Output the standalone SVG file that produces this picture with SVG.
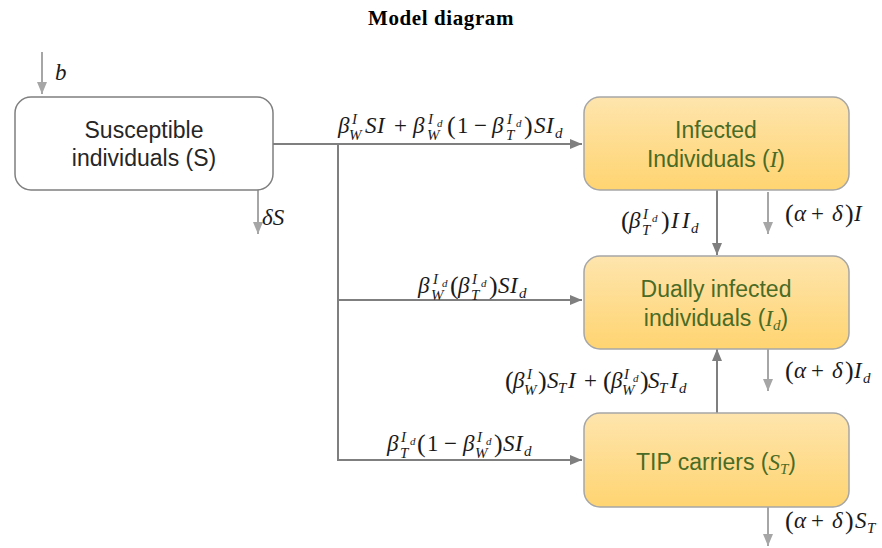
<svg xmlns="http://www.w3.org/2000/svg" width="882" height="548" viewBox="0 0 882 548">
<defs>
<linearGradient id="gold" x1="0" y1="0" x2="0" y2="1">
<stop offset="0" stop-color="#fee5ad"/>
<stop offset="1" stop-color="#ffd471"/>
</linearGradient>
<marker id="ad" markerUnits="userSpaceOnUse" markerWidth="12" markerHeight="10" refX="12" refY="5" orient="auto">
<path d="M0,0 L12,5 L0,10 z" fill="#7f7f7f"/>
</marker>
<marker id="al" markerUnits="userSpaceOnUse" markerWidth="12" markerHeight="10" refX="12" refY="5" orient="auto">
<path d="M0,0 L12,5 L0,10 z" fill="#a6a6a6"/>
</marker>
</defs>
<style>
.title{font-family:"Liberation Serif",serif;font-weight:bold;font-size:21px;fill:#000}
.box{stroke:#a6a6a6;stroke-width:1.5}
.wbox{fill:#fff;stroke:#7f7f7f;stroke-width:1.5}
.nt{font-family:"Liberation Sans",Arial,sans-serif;font-size:23px;text-anchor:middle}
.st{fill:#262626}
.gt{fill:#4a6b26}
.gi{font-family:"Liberation Serif",serif;font-style:italic}
.dk{stroke:#7f7f7f;stroke-width:2;fill:none}
.lt{stroke:#a6a6a6;stroke-width:2;fill:none}
.m{font-family:"Liberation Serif",serif;font-size:23px;fill:#1a1a1a}
.i{font-style:italic}
.s{font-size:15px;font-style:italic}
.ss{font-size:11px;font-style:italic}
.p{font-size:26px}
</style>
<text class="title" x="441" y="25" text-anchor="middle" letter-spacing="0.6">Model diagram</text>

<g id="connectors">
<polyline class="dk" points="273,144 582,144" marker-end="url(#ad)"/>
<polyline class="dk" points="338,144 338,460 582,460" marker-end="url(#ad)"/>
<polyline class="dk" points="338,300 582,300" marker-end="url(#ad)"/>
<line class="dk" x1="717" y1="190" x2="717" y2="255" marker-end="url(#ad)"/>
<line class="dk" x1="717" y1="413" x2="717" y2="349" marker-end="url(#ad)"/>
<line class="lt" x1="42" y1="52" x2="42" y2="94" marker-end="url(#al)"/>
<line class="lt" x1="258" y1="190" x2="258" y2="234" marker-end="url(#al)"/>
<line class="lt" x1="768" y1="192" x2="768" y2="234" marker-end="url(#al)"/>
<line class="lt" x1="768" y1="349" x2="768" y2="391" marker-end="url(#al)"/>
<line class="lt" x1="768" y1="507" x2="768" y2="546" marker-end="url(#al)"/>
</g>

<g id="labels">
<text class="m i" x="55" y="80">b</text>
<text class="m i" x="262" y="225">δS</text>
<!-- top formula -->
<text class="m">
<tspan class="i" x="338" y="133">β</tspan>
<tspan class="s" x="352" y="124">I</tspan>
<tspan class="s" x="349" y="140">W</tspan>
<tspan class="i" x="365" y="133">S</tspan>
<tspan class="i" x="377" y="133">I</tspan>
<tspan x="394" y="133">+</tspan>
<tspan class="i" x="413" y="133">β</tspan>
<tspan class="s" x="428" y="124">I</tspan><tspan class="ss" x="437" y="127">d</tspan>
<tspan class="s" x="427" y="140">W</tspan>
<tspan class="p" x="447" y="134">(</tspan>
<tspan x="457" y="133">1</tspan>
<tspan x="474" y="133">−</tspan>
<tspan class="i" x="492" y="133">β</tspan>
<tspan class="s" x="507" y="124">I</tspan><tspan class="ss" x="516" y="127">d</tspan>
<tspan class="s" x="506" y="140">T</tspan>
<tspan class="p" x="524" y="134">)</tspan>
<tspan class="i" x="534" y="133">S</tspan>
<tspan class="i" x="546" y="133">I</tspan>
<tspan class="s" x="555" y="138">d</tspan>
</text>
<!-- middle formula -->
<text class="m">
<tspan class="i" x="418" y="293">β</tspan>
<tspan class="s" x="433" y="284">I</tspan><tspan class="ss" x="442" y="287">d</tspan>
<tspan class="s" x="431" y="300">W</tspan>
<tspan class="p" x="450" y="294">(</tspan>
<tspan class="i" x="458" y="293">β</tspan>
<tspan class="s" x="472" y="284">I</tspan><tspan class="ss" x="481" y="287">d</tspan>
<tspan class="s" x="471" y="300">T</tspan>
<tspan class="p" x="489" y="294">)</tspan>
<tspan class="i" x="498" y="293">S</tspan>
<tspan class="i" x="510" y="293">I</tspan>
<tspan class="s" x="519" y="298">d</tspan>
</text>
<!-- bottom formula -->
<text class="m">
<tspan class="i" x="387" y="451">β</tspan>
<tspan class="s" x="401" y="442">I</tspan><tspan class="ss" x="410" y="445">d</tspan>
<tspan class="s" x="400" y="458">T</tspan>
<tspan class="p" x="417" y="452">(</tspan>
<tspan x="427" y="451">1</tspan>
<tspan x="444" y="451">−</tspan>
<tspan class="i" x="463" y="451">β</tspan>
<tspan class="s" x="477" y="442">I</tspan><tspan class="ss" x="486" y="445">d</tspan>
<tspan class="s" x="475" y="458">W</tspan>
<tspan class="p" x="494" y="452">)</tspan>
<tspan class="i" x="503" y="451">S</tspan>
<tspan class="i" x="515" y="451">I</tspan>
<tspan class="s" x="524" y="456">d</tspan>
</text>
<!-- up arrow label -->
<text class="m">
<tspan class="p" x="505" y="389">(</tspan>
<tspan class="i" x="513" y="388">β</tspan>
<tspan class="s" x="527" y="379">I</tspan>
<tspan class="s" x="524" y="395">W</tspan>
<tspan class="p" x="538" y="389">)</tspan>
<tspan class="i" x="547" y="388">S</tspan>
<tspan class="s" x="558" y="393">T</tspan>
<tspan class="i" x="568" y="388">I</tspan>
<tspan x="584" y="388">+</tspan>
<tspan class="p" x="603" y="389">(</tspan>
<tspan class="i" x="611" y="388">β</tspan>
<tspan class="s" x="624" y="379">I</tspan><tspan class="ss" x="633" y="382">d</tspan>
<tspan class="s" x="622" y="395">W</tspan>
<tspan class="p" x="640" y="389">)</tspan>
<tspan class="i" x="648" y="388">S</tspan>
<tspan class="s" x="659" y="393">T</tspan>
<tspan class="i" x="670" y="388">I</tspan>
<tspan class="s" x="679" y="393">d</tspan>
</text>
<!-- down arrow label -->
<text class="m">
<tspan class="p" x="621" y="229">(</tspan>
<tspan class="i" x="629" y="228">β</tspan>
<tspan class="s" x="643" y="219">I</tspan><tspan class="ss" x="652" y="222">d</tspan>
<tspan class="s" x="642" y="235">T</tspan>
<tspan class="p" x="661" y="229">)</tspan>
<tspan class="i" x="671" y="228">I</tspan>
<tspan class="i" x="682" y="228">I</tspan>
<tspan class="s" x="691" y="233">d</tspan>
</text>
<!-- losses -->
<text class="m">
<tspan class="p" x="785" y="222">(</tspan>
<tspan class="i" x="794" y="221">α</tspan>
<tspan x="811" y="221">+</tspan>
<tspan class="i" x="832" y="221">δ</tspan>
<tspan class="p" x="845" y="222">)</tspan>
<tspan class="i" x="854" y="221">I</tspan>
</text>
<text class="m">
<tspan class="p" x="785" y="379">(</tspan>
<tspan class="i" x="794" y="378">α</tspan>
<tspan x="811" y="378">+</tspan>
<tspan class="i" x="832" y="378">δ</tspan>
<tspan class="p" x="845" y="379">)</tspan>
<tspan class="i" x="854" y="378">I</tspan>
<tspan class="s" x="863" y="383">d</tspan>
</text>
<text class="m">
<tspan class="p" x="785" y="529">(</tspan>
<tspan class="i" x="794" y="528">α</tspan>
<tspan x="811" y="528">+</tspan>
<tspan class="i" x="832" y="528">δ</tspan>
<tspan class="p" x="845" y="529">)</tspan>
<tspan class="i" x="855" y="528">S</tspan>
<tspan class="s" x="867" y="533">T</tspan>
</text>
</g>

<g id="susceptible">
<rect class="wbox" x="15" y="97" width="258" height="93" rx="16"/>
<text class="nt st" x="144" y="138">Susceptible</text>
<text class="nt st" x="144" y="166">individuals (S)</text>
</g>

<g id="infected">
<rect class="box" x="584" y="97" width="265" height="93" rx="16" fill="url(#gold)"/>
<text class="nt gt" x="716" y="138">Infected</text>
<text class="nt gt" x="716" y="167">Individuals (<tspan class="gi">I</tspan>)</text>
</g>

<g id="dually">
<rect class="box" x="584" y="256" width="265" height="93" rx="16" fill="url(#gold)"/>
<text class="nt gt" x="716" y="297">Dually infected</text>
<text class="nt gt" x="716" y="326">individuals (<tspan class="gi">I</tspan><tspan class="gi" font-size="15px" dy="4">d</tspan><tspan dy="-4">)</tspan></text>
</g>

<g id="tip">
<rect class="box" x="584" y="413" width="265" height="94" rx="16" fill="url(#gold)"/>
<text class="nt gt" x="716" y="470">TIP carriers (<tspan class="gi">S</tspan><tspan class="gi" font-size="15px" dy="4">T</tspan><tspan dy="-4">)</tspan></text>
</g>
</svg>
